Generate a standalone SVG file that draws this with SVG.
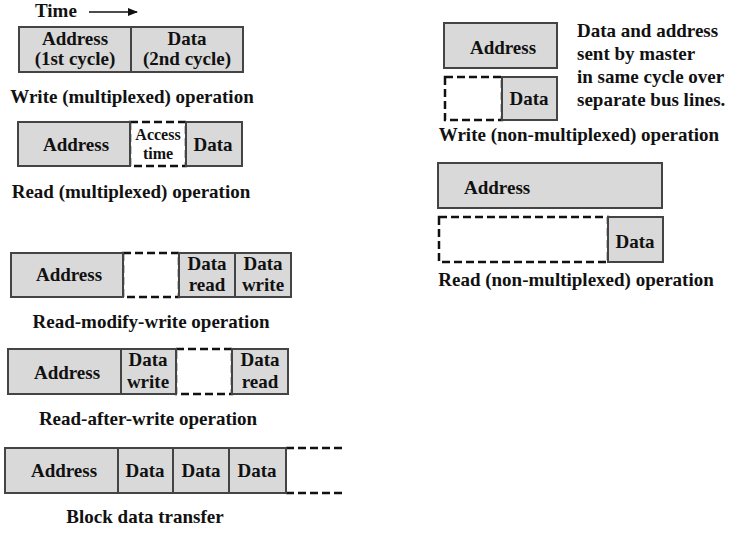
<svg xmlns="http://www.w3.org/2000/svg" width="733" height="534" viewBox="0 0 733 534">
<style>
text{font-family:"Liberation Serif","Times New Roman",serif;font-weight:bold;font-size:19px;fill:#111}
.m{text-anchor:middle}
.s{font-size:16px}
.g{fill:#d9d9d9;stroke:#444;stroke-width:2}
.d{fill:#fff;stroke:#111;stroke-width:2.5;stroke-dasharray:8 4}
.dl{fill:none;stroke:#111;stroke-width:2.5;stroke-dasharray:8 4}
</style>
<defs>
<marker id="ah" markerWidth="10" markerHeight="8" refX="9" refY="4" orient="auto" markerUnits="userSpaceOnUse">
<path d="M0,0 L10,4 L0,8 Z" fill="#111"/>
</marker>
</defs>
<rect width="733" height="534" fill="#fff"/>
<g id="time">
<text x="35" y="17">Time</text>
</g>
<g id="connectors">
<line x1="89" y1="12" x2="137" y2="12" stroke="#111" stroke-width="1.5" marker-end="url(#ah)"/>
</g>
<g id="write-mux">
<rect class="g" x="19" y="27" width="112" height="45"/>
<rect class="g" x="131" y="27" width="112" height="45"/>
<text class="m" x="75" y="45">Address</text>
<text class="m" x="75" y="65">(1st cycle)</text>
<text class="m" x="187" y="45">Data</text>
<text class="m" x="187" y="65">(2nd cycle)</text>
<text class="m" x="132" y="103">Write (multiplexed) operation</text>
</g>
<g id="read-mux">
<rect class="d" x="130" y="122" width="56" height="44"/>
<rect class="g" x="18" y="122" width="112" height="44"/>
<rect class="g" x="186" y="122" width="56" height="44"/>
<text class="m" x="76" y="151">Address</text>
<text class="m s" x="158" y="140">Access</text>
<text class="m s" x="158" y="159">time</text>
<text class="m" x="213" y="151">Data</text>
<text class="m" x="131" y="198">Read (multiplexed) operation</text>
</g>
<g id="rmw">
<rect class="d" x="123" y="253" width="56" height="44"/>
<rect class="g" x="11" y="253" width="112" height="44"/>
<rect class="g" x="179" y="253" width="56" height="44"/>
<rect class="g" x="235" y="253" width="56" height="44"/>
<text class="m" x="69" y="281">Address</text>
<text class="m" x="207" y="270">Data</text>
<text class="m" x="207" y="291">read</text>
<text class="m" x="263" y="270">Data</text>
<text class="m" x="263" y="291">write</text>
<text class="m" x="151" y="328">Read-modify-write operation</text>
</g>
<g id="raw">
<rect class="d" x="176" y="349" width="56" height="45"/>
<rect class="g" x="8" y="349" width="113" height="45"/>
<rect class="g" x="121" y="349" width="55" height="45"/>
<rect class="g" x="232" y="349" width="56" height="45"/>
<text class="m" x="67" y="379">Address</text>
<text class="m" x="148" y="366">Data</text>
<text class="m" x="148" y="388">write</text>
<text class="m" x="260" y="366">Data</text>
<text class="m" x="260" y="388">read</text>
<text class="m" x="148" y="425">Read-after-write operation</text>
</g>
<g id="block">
<line class="dl" x1="286" y1="448" x2="343" y2="448"/>
<line class="dl" x1="286" y1="493" x2="343" y2="493"/>
<rect class="g" x="5" y="448" width="113" height="45"/>
<rect class="g" x="118" y="448" width="55" height="45"/>
<rect class="g" x="173" y="448" width="56" height="45"/>
<rect class="g" x="229" y="448" width="57" height="45"/>
<text class="m" x="64" y="477">Address</text>
<text class="m" x="145" y="477">Data</text>
<text class="m" x="201" y="477">Data</text>
<text class="m" x="257" y="477">Data</text>
<text class="m" x="145" y="523">Block data transfer</text>
</g>
<g id="write-nonmux">
<rect class="g" x="444" y="23" width="113" height="45"/>
<rect class="d" x="445" y="77" width="57" height="43"/>
<rect class="g" x="502" y="77" width="55" height="43"/>
<text class="m" x="503" y="54">Address</text>
<text class="m" x="529" y="105">Data</text>
<text x="577" y="37">Data and address</text>
<text x="577" y="60">sent by master</text>
<text x="577" y="83">in same cycle over</text>
<text x="577" y="106">separate bus lines.</text>
<text class="m" x="579" y="141">Write (non-multiplexed) operation</text>
</g>
<g id="read-nonmux">
<rect class="g" x="438" y="163" width="224" height="45"/>
<rect class="d" x="439" y="217" width="169" height="45"/>
<rect class="g" x="608" y="217" width="55" height="45"/>
<text x="464" y="194">Address</text>
<text class="m" x="635" y="248">Data</text>
<text class="m" x="576" y="286">Read (non-multiplexed) operation</text>
</g>
</svg>
